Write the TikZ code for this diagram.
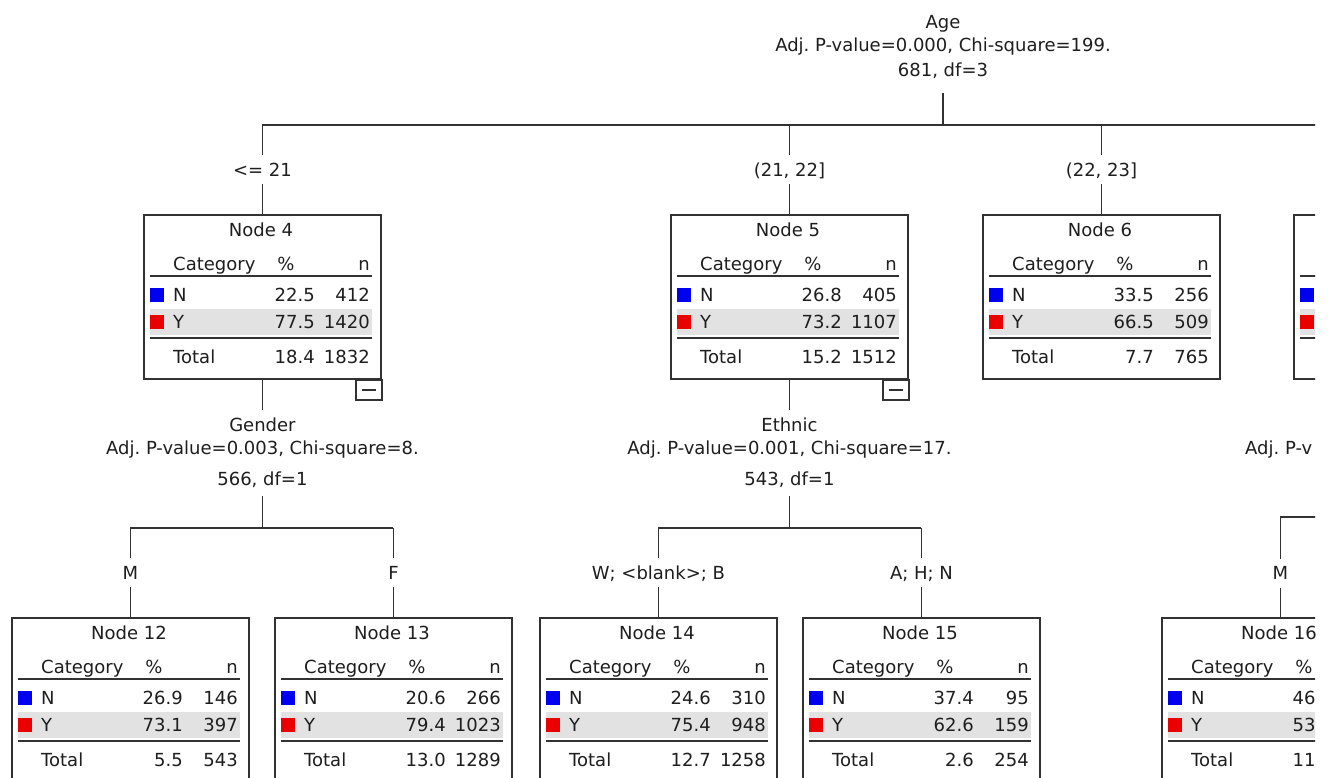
\documentclass[tikz,border=0pt]{standalone}
\usepackage{fontspec}
\setmainfont{DejaVu Sans}
\usetikzlibrary{positioning, calc}
\definecolor{linegray}{RGB}{50,50,50}
\definecolor{rowgray}{RGB}{226,226,226}
\definecolor{catN}{RGB}{0,0,240}
\definecolor{catY}{RGB}{235,0,0}
\definecolor{txtgray}{RGB}{30,30,30}
\tikzset{
  TB/.style={draw=linegray,line width=1.9pt,fill=white,rectangle,anchor=north west,minimum width=237pt,minimum height=164pt,inner sep=0pt},
  TX/.style={inner sep=0pt,text height=13pt,text depth=0pt,text=txtgray},
  RL/.style={draw=linegray,line width=1.9pt},
  LN/.style={draw=linegray,line width=1.9pt},
  SP/.style={align=center,anchor=north,inner sep=8pt,text=txtgray},
  lb/.style={fill=white,inner xsep=2pt,inner ysep=8pt,text height=13pt,text depth=0pt,text=txtgray},
  TG/.style={draw=linegray,line width=1.6pt,fill=white},
}
% one category table: number, left, top, N%, Nn, Y%, Yn, Total%, Total n
\newcommand{\cattable}[9]{%
  \begin{scope}[shift={(#2,#3)}]
    \node[TB] (n#1) at (0,0) {};
    \fill[rowgray] (7,95) rectangle (229,121);
    \node[TX] at (118,16) {Node #1};
    \node[TX,anchor=west] at (30,50) {Category};
    \node[TX] at (143,50) {\%};
    \node[TX,anchor=east] at (227,50) {n};
    \draw[RL] (7,62) -- (229,62);
    \fill[catN] (7,74) rectangle (21,88);
    \node[TX,anchor=west] at (30,81) {N};
    \node[TX,anchor=east] at (172,81) {#4};
    \node[TX,anchor=east] at (227,81) {#5};
    \fill[catY] (7,101) rectangle (21,115);
    \node[TX,anchor=west] at (30,108) {Y};
    \node[TX,anchor=east] at (172,108) {#6};
    \node[TX,anchor=east] at (227,108) {#7};
    \draw[RL] (7,124) -- (229,124);
    \node[TX,anchor=west] at (30,143) {Total};
    \node[TX,anchor=east] at (172,143) {#8};
    \node[TX,anchor=east] at (227,143) {#9};
  \end{scope}}

\begin{document}
\frenchspacing
\begin{tikzpicture}[x=1pt,y=-1pt,font=\fontsize{18}{23}\selectfont]
\useasboundingbox[fill=white] (0,0) rectangle (1328,777);
\clip (0,0) rectangle (1315,777);

% Age split
\node[SP] (s1) at (943,7.5) {Age\\Adj. P-value=0.000, Chi-square=199.\\[2pt]681, df=3};
\coordinate (bus1) at (943,125);

% level 1
\cattable{4}{143}{214}{22.5}{412}{77.5}{1420}{18.4}{1832}
\cattable{5}{670}{214}{26.8}{405}{73.2}{1107}{15.2}{1512}
\cattable{6}{982}{214}{33.5}{256}{66.5}{509}{7.7}{765}
\begin{scope}[shift={(1293,214)}]
  \node[TB] (n7) at (0,0) {};
  \fill[rowgray] (7,95) rectangle (229,121);
  \draw[RL] (7,62) -- (229,62);
  \fill[catN] (7,74) rectangle (21,88);
  \fill[catY] (7,101) rectangle (21,115);
  \draw[RL] (7,124) -- (229,124);
\end{scope}

\draw[LN] ([yshift=-6pt]s1.south) -- (bus1);
\draw[LN] (n4.north |- bus1) -- (n7.north |- bus1);
\draw[LN] (n4.north |- bus1) -- node[lb]{<= 21} (n4.north);
\draw[LN] (n5.north |- bus1) -- node[lb]{(21, 22]} (n5.north);
\draw[LN] (n6.north |- bus1) -- node[lb]{(22, 23]} (n6.north);
\draw[LN] (n7.north |- bus1) -- (n7.north);

% collapse toggles
\foreach \t in {n4,n5}{
  \draw[TG] ([xshift=-26pt]\t.south east) rectangle ([yshift=-20pt]\t.south east);
  \draw[LN,line width=1.6pt] ([xshift=-20pt,yshift=-10pt]\t.south east) -- ([xshift=-6pt,yshift=-10pt]\t.south east);
}

% Gender split
\node[SP] (s4) [below=30pt of n4] {Gender\\Adj. P-value=0.003, Chi-square=8.\\[8pt]566, df=1};
\draw[LN] (n4.south) -- (s4.north);
\draw[LN] (s4.south) -- ++(0,32) coordinate (bus4);

% Ethnic split
\node[SP] (s5) [below=30pt of n5] {Ethnic\\Adj. P-value=0.001, Chi-square=17.\\[8pt]543, df=1};
\draw[LN] (n5.south) -- (s5.north);
\draw[LN] (s5.south) -- ++(0,32) coordinate (bus5);

% split under node 7
\node[TX,anchor=west] (s7) at (1245,448) {Adj. P-v};
\coordinate (bus7) at (1411.5,517);

% level 2
\cattable{12}{11}{617}{26.9}{146}{73.1}{397}{5.5}{543}
\cattable{13}{274}{617}{20.6}{266}{79.4}{1023}{13.0}{1289}
\cattable{14}{539}{617}{24.6}{310}{75.4}{948}{12.7}{1258}
\cattable{15}{802}{617}{37.4}{95}{62.6}{159}{2.6}{254}
\cattable{16}{1161}{617}{46\hphantom{.0}}{}{53\hphantom{.0}}{}{11\hphantom{.0}}{}

\draw[LN] (n12.north |- bus4) -- (n13.north |- bus4);
\draw[LN] (n12.north |- bus4) -- node[lb]{M} (n12.north);
\draw[LN] (n13.north |- bus4) -- node[lb]{F} (n13.north);

\draw[LN] (n14.north |- bus5) -- (n15.north |- bus5);
\draw[LN] (n14.north |- bus5) -- node[lb]{W; <blank>; B} (n14.north);
\draw[LN] (n15.north |- bus5) -- node[lb]{A; H; N} (n15.north);

\draw[LN] (n16.north |- bus7) -- (bus7);
\draw[LN] (n16.north |- bus7) -- node[lb,pos=0.56]{M} (n16.north);

\end{tikzpicture}
\end{document}
